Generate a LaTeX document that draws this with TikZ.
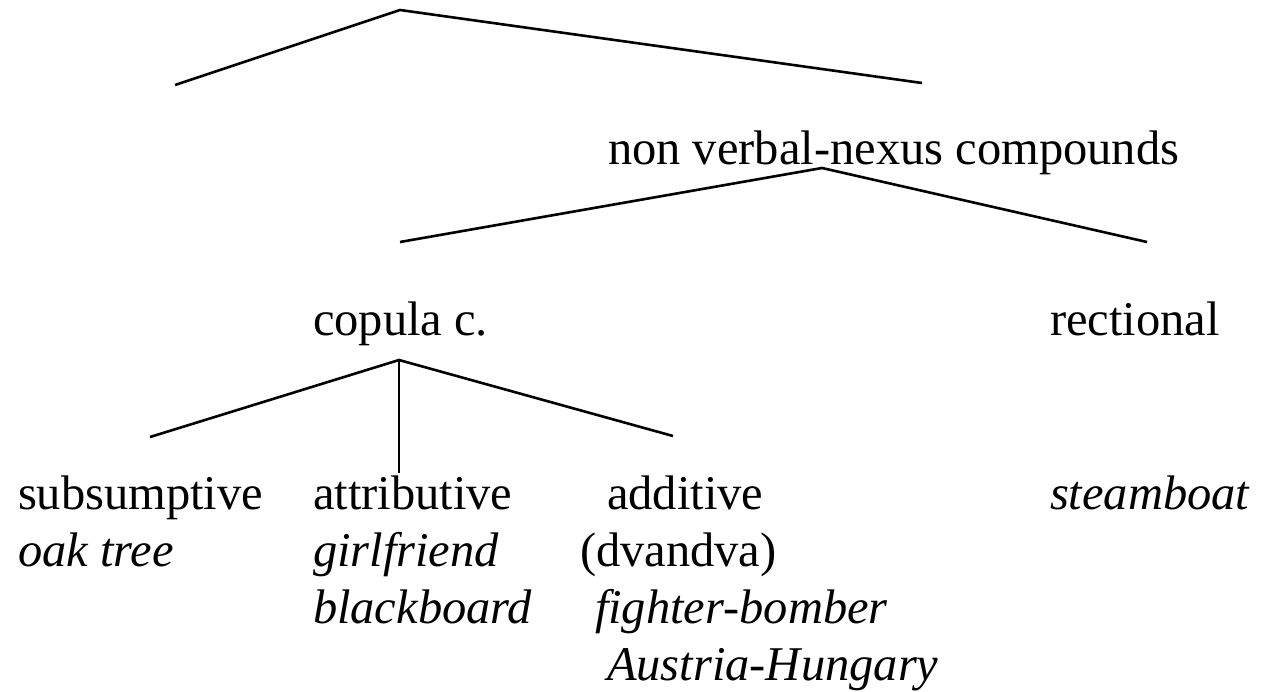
\documentclass[tikz,border=0pt]{standalone}
\usepackage{fontspec}
\setmainfont{Liberation Serif}
\begin{document}
\begin{tikzpicture}[x=1pt,y=-1pt,
  lbl/.style={anchor=base west,inner sep=0pt,outer sep=0pt,font=\fontsize{48.5}{57}\selectfont},
  ex/.style={lbl,font=\fontsize{48.5}{57}\selectfont\itshape},
  branch/.style={line width=2.6pt,line cap=butt,line join=miter}]
\useasboundingbox (0,0) rectangle (1268,691);

% top level
\coordinate (root) at (400,10);
\coordinate (rootL) at (175,85);
\coordinate (rootR) at (922,83);
\draw[branch] (rootL) -- (root) -- (rootR);

% non verbal-nexus compounds
\node[lbl] (nvn) at (608,164) {non verbal-nexus compounds};
\coordinate (nvnTop) at (822,168);
\coordinate (nvnL) at (400,242);
\coordinate (nvnR) at (1147,242);
\draw[branch] (nvnL) -- (nvnTop) -- (nvnR);

% second level
\node[lbl] (cop) at (313,335) {copula c.};
\node[lbl] (rect) at (1050,335) {rectional};

\coordinate (copTop) at (399,360);
\coordinate (copL) at (150,437);
\coordinate (copM) at (399,473);
\coordinate (copR) at (673,436);
\draw[branch] (copL) -- (copTop) -- (copR);
\draw[line width=1.6pt] (copTop) -- (copM);

% leaves
\node[lbl] (subs) at (18,509) {subsumptive};
\node[ex]  (oak)  at (18,566) {oak tree};

\node[lbl] (attr) at (313,509) {attributive};
\node[ex]  (girl) at (313,566) {girlfriend};
\node[ex]  (black) at (313,623) {blackboard};

\node[lbl] (add)  at (607,509) {additive};
\node[lbl] (dva)  at (580,566) {(dvandva)};
\node[ex]  (fb)   at (595,623) {fighter-bomber};
\node[ex]  (ah)   at (607,680) {Austria-Hungary};

\node[ex]  (steam) at (1050,509) {steamboat};
\end{tikzpicture}
\end{document}
